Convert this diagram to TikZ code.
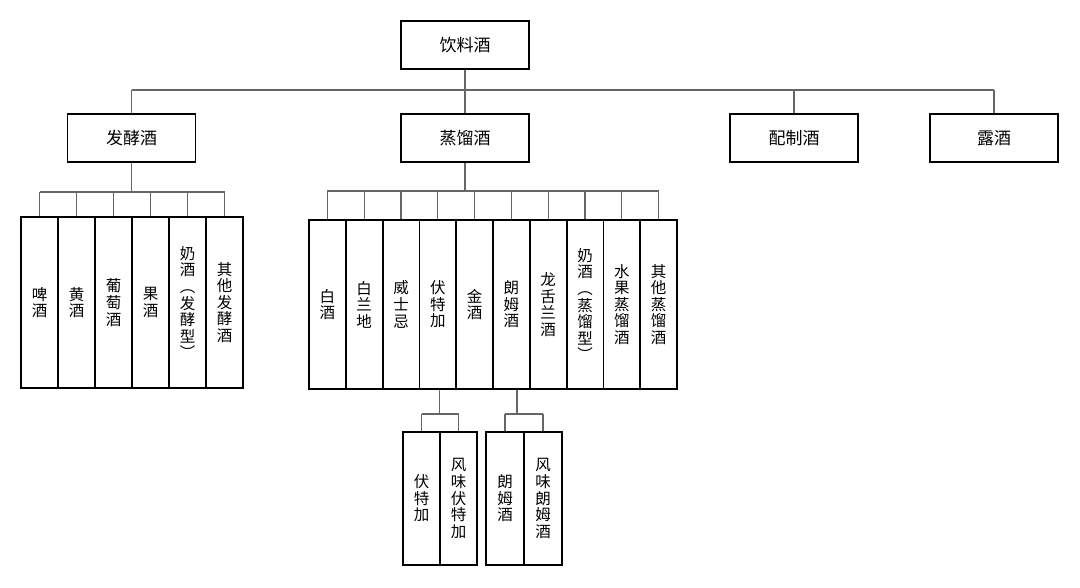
\documentclass[tikz,border=0pt]{standalone}
\usepackage{fontspec}
\newfontfamily\cjk{Noto Sans CJK SC}
\usepackage{xcolor}
\usepackage{tikz}
\definecolor{grigio}{HTML}{666666}

\begin{document}
\begin{tikzpicture}[x=1pt, y=-1pt,
            every node/.style={font=\cjk\fontsize{17}{19}\selectfont},
            box/.style={draw, line width=1.8pt, minimum width=128pt, minimum height=48pt, inner sep=0pt},
            leaf/.style={draw, line width=1.8pt, inner sep=0pt, align=center,
                font=\cjk\fontsize{15.5}{16.6}\selectfont},
            link/.style={draw=grigio, line width=1.2pt}]
        \useasboundingbox (0,0) rectangle (1080,587);
        % Larghezze colonne
        \def\fw{37} \def\dw{36.8}

        % Radice
        \node[box] (root) at (465,45) {饮料酒};

        % Secondo livello
        \node[box] (ferm) at (131.5,138) {发酵酒};
        \node[box] (dist) at (465,138) {蒸馏酒};
        \node[box] (prep) at (794,138) {配制酒};
        \node[box] (lu) at (994,138) {露酒};

        \coordinate (bar0) at (0,90);
        \draw[link] (root.south) -- (root.south |- bar0);
        \draw[link] (ferm.north |- bar0) -- (lu.north |- bar0);
        \foreach \n in {ferm,dist,prep,lu}
            \draw[link] (\n.north) -- (\n.north |- bar0);

        % Fermentati
        \foreach \t [count=\i] in {{啤\\酒},{黄\\酒},{葡\\萄\\酒},{果\\酒},
                {奶\\酒\\︵\\发\\酵\\型\\︶},{其\\他\\发\\酵\\酒}}
            \node[leaf, minimum width=\fw pt, minimum height=171pt] (f\i)
                at ({21+\fw*(\i-0.5)},302.5) {\t};

        \coordinate (bar1) at (0,192);
        \draw[link] (ferm.south) -- (ferm.south |- bar1);
        \draw[link] (f1.north |- bar1) -- (f6.north |- bar1);
        \foreach \i in {1,...,6}
            \draw[link] (f\i.north) -- (f\i.north |- bar1);

        % Distillati
        \foreach \t [count=\i] in {{白\\酒},{白\\兰\\地},{威\\士\\忌},{伏\\特\\加},{金\\酒},
                {朗\\姆\\酒},{龙\\舌\\兰\\酒},{奶\\酒\\︵\\蒸\\馏\\型\\︶},
                {水\\果\\蒸\\馏\\酒},{其\\他\\蒸\\馏\\酒}}
            \node[leaf, minimum width=\dw pt, minimum height=169pt] (d\i)
                at ({309+\dw*(\i-0.5)},304.5) {\t};

        \coordinate (bar2) at (0,191);
        \draw[link] (dist.south) -- (dist.south |- bar2);
        \draw[link] (d1.north |- bar2) -- (d10.north |- bar2);
        \foreach \i in {1,...,10}
            \draw[link] (d\i.north) -- (d\i.north |- bar2);

        % Vodka e rum
        \node[leaf, minimum width=37pt, minimum height=133pt] (v1) at (421.5,498.5) {伏\\特\\加};
        \node[leaf, minimum width=37pt, minimum height=133pt] (v2) at (458.5,498.5) {风\\味\\伏\\特\\加};
        \node[leaf, minimum width=38pt, minimum height=133pt] (r1) at (505,498.5) {朗\\姆\\酒};
        \node[leaf, minimum width=38pt, minimum height=133pt] (r2) at (543,498.5) {风\\味\\朗\\姆\\酒};

        \coordinate (bar3) at (0,414);
        \draw[link] ([xshift=2pt]d4.south) -- ([xshift=2pt]d4.south |- bar3);
        \draw[link] (v1.north |- bar3) -- (v2.north |- bar3);
        \draw[link] (v1.north) -- (v1.north |- bar3);
        \draw[link] (v2.north) -- (v2.north |- bar3);
        \draw[link] ([xshift=5.6pt]d6.south) -- ([xshift=5.6pt]d6.south |- bar3);
        \draw[link] (r1.north |- bar3) -- (r2.north |- bar3);
        \draw[link] (r1.north) -- (r1.north |- bar3);
        \draw[link] (r2.north) -- (r2.north |- bar3);
    \end{tikzpicture}
\end{document}
